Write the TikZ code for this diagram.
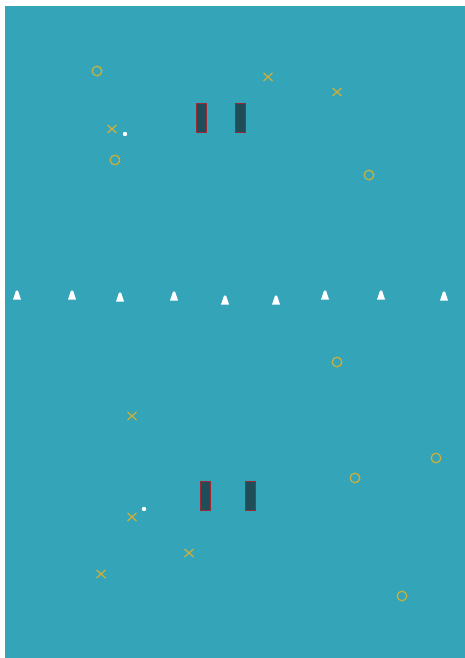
\documentclass[tikz,border=0pt]{standalone}
\begin{document}
\begin{tikzpicture}[x=1pt,y=-1pt,
  goal/.style={fill=goalc, draw=goalred, line width=0.7pt},
  conec/.style={fill=white, draw=none},
  ringc/.style={draw=markc, line width=1.3pt},
  crossc/.style={draw=markc, line width=1.3pt},
  dotc/.style={fill=white, draw=none}]
\definecolor{pitchc}{HTML}{34A4B8}
\definecolor{goalc}{HTML}{1F4E58}
\definecolor{goalred}{HTML}{9A2A36}
\definecolor{markc}{HTML}{C4B040}
\useasboundingbox (0,0) rectangle (465,658);
\fill[white] (0,0) rectangle (465,658);
\fill[pitchc] (5,6) rectangle (465,658);
% goals
\draw[goal] (196,103) rectangle (206,132);
\draw[goal] (235,103) rectangle (245,132);
\draw[goal] (200.5,481) rectangle (210.5,510);
\draw[goal] (245,481) rectangle (255,510);
% cones
\foreach \x/\y in {17/295,72/295,120/297,174/296,225/300,276/300,325/295,381/295,444/296}
  \fill[conec] (\x-4,\y+4.5) -- (\x-1,\y-4.5) -- (\x+1,\y-4.5) -- (\x+4,\y+4.5) -- cycle;
% rings
\foreach \x/\y in {97/71,115/160,369/175,337/362,436/458,355/478,402/596}
  \draw[ringc] (\x,\y) circle (4.8);
% crosses
\foreach \x/\y in {112/129,268/77,337/92,132/416,132/517,189/553,101/574}
  \draw[crossc] (\x-4.5,\y-4) -- (\x+4.5,\y+4) (\x-4.5,\y+4) -- (\x+4.5,\y-4);
% dots
\fill[dotc] (125,134) circle (2.2);
\fill[dotc] (144,509) circle (2.2);
\end{tikzpicture}
\end{document}
